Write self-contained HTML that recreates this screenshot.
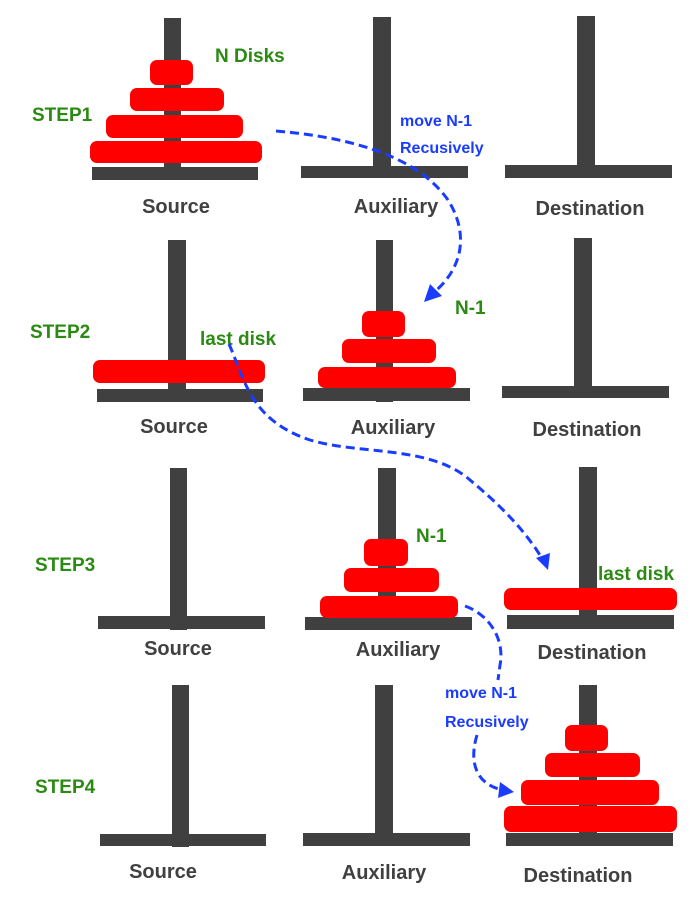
<!DOCTYPE html>
<html><head><meta charset="utf-8"><style>
html,body{margin:0;padding:0;background:#fff;}
svg{display:block;}
text{font-family:"Liberation Sans","DejaVu Sans",sans-serif;font-weight:bold;}
.p{fill:#404040;}
.d{fill:#ff0000;}
.g{fill:#2a8a12;font-size:19px;}
.l{fill:#404040;font-size:20px;}
.b{fill:#1a3cff;font-size:16px;}
.a{fill:none;stroke:#1a3cff;stroke-width:3;stroke-dasharray:9 5;}
</style></head><body>
<svg width="700" height="910" viewBox="0 0 700 910" xmlns="http://www.w3.org/2000/svg">
<rect width="700" height="910" fill="#fff"/>
<!-- STEP1 -->
<rect class="p" x="164" y="18" width="17" height="162"/><rect class="p" x="92" y="167" width="166" height="13"/>
<rect class="d" x="150" y="60" width="43" height="25" rx="7"/>
<rect class="d" x="130" y="88" width="94" height="23" rx="7"/>
<rect class="d" x="106" y="115" width="137" height="23" rx="7"/>
<rect class="d" x="90" y="141" width="172" height="22" rx="7"/>
<rect class="p" x="373" y="17" width="18" height="161"/><rect class="p" x="301" y="166" width="167" height="12"/>
<rect class="p" x="577" y="16" width="18" height="162"/><rect class="p" x="505" y="165" width="167" height="13"/>
<text class="g" x="215" y="62">N Disks</text>
<text class="g" x="32" y="121">STEP1</text>
<text class="b" x="400" y="126">move N-1</text>
<text class="b" x="400" y="153">Recusively</text>
<text class="l" x="176" y="213" text-anchor="middle">Source</text>
<text class="l" x="396" y="213" text-anchor="middle">Auxiliary</text>
<text class="l" x="590" y="215" text-anchor="middle">Destination</text>
<!-- STEP2 -->
<rect class="p" x="168" y="240" width="18" height="162"/><rect class="p" x="97" y="389" width="166" height="13"/>
<rect class="d" x="93" y="360" width="172" height="23" rx="7"/>
<rect class="p" x="376" y="240" width="17" height="162"/><rect class="p" x="303" y="388" width="167" height="13"/>
<rect class="d" x="362" y="311" width="43" height="26" rx="7"/>
<rect class="d" x="342" y="339" width="94" height="24" rx="7"/>
<rect class="d" x="318" y="367" width="138" height="21" rx="7"/>
<rect class="p" x="574" y="238" width="18" height="160"/><rect class="p" x="502" y="386" width="167" height="12"/>
<text class="g" x="30" y="338">STEP2</text>
<text class="g" x="200" y="345">last disk</text>
<text class="g" x="455" y="314">N-1</text>
<text class="l" x="174" y="433" text-anchor="middle">Source</text>
<text class="l" x="393" y="434" text-anchor="middle">Auxiliary</text>
<text class="l" x="587" y="436" text-anchor="middle">Destination</text>
<!-- STEP3 -->
<rect class="p" x="170" y="468" width="17" height="162"/><rect class="p" x="98" y="616" width="167" height="13"/>
<rect class="p" x="378" y="468" width="18" height="162"/><rect class="p" x="305" y="617" width="167" height="13"/>
<rect class="d" x="364" y="539" width="44" height="27" rx="7"/>
<rect class="d" x="344" y="568" width="95" height="24" rx="7"/>
<rect class="d" x="320" y="596" width="138" height="22" rx="7"/>
<rect class="p" x="579" y="467" width="18" height="162"/><rect class="p" x="507" y="615" width="167" height="14"/>
<rect class="d" x="504" y="588" width="173" height="22" rx="7"/>
<text class="g" x="35" y="571">STEP3</text>
<text class="g" x="416" y="542">N-1</text>
<text class="g" x="598" y="580">last disk</text>
<text class="l" x="178" y="655" text-anchor="middle">Source</text>
<text class="l" x="398" y="656" text-anchor="middle">Auxiliary</text>
<text class="l" x="592" y="659" text-anchor="middle">Destination</text>
<!-- STEP4 -->
<rect class="p" x="172" y="685" width="17" height="162"/><rect class="p" x="100" y="834" width="166" height="12"/>
<rect class="p" x="375" y="685" width="18" height="161"/><rect class="p" x="303" y="833" width="167" height="13"/>
<rect class="p" x="579" y="685" width="18" height="161"/><rect class="p" x="506" y="833" width="167" height="13"/>
<rect class="d" x="565" y="725" width="43" height="26" rx="7"/>
<rect class="d" x="545" y="753" width="95" height="24" rx="7"/>
<rect class="d" x="521" y="780" width="138" height="25" rx="7"/>
<rect class="d" x="504" y="806" width="173" height="26" rx="7"/>
<text class="g" x="35" y="793">STEP4</text>
<text class="b" x="445" y="698">move N-1</text>
<text class="b" x="445" y="727">Recusively</text>
<text class="l" x="163" y="878" text-anchor="middle">Source</text>
<text class="l" x="384" y="879" text-anchor="middle">Auxiliary</text>
<text class="l" x="578" y="882" text-anchor="middle">Destination</text>
<!-- arrows -->
<path class="a" d="M276,131 C360,138 420,160 448,200 C470,235 462,270 432,294"/>
<polygon fill="#1a3cff" points="424,302 430,284 442,296"/>
<path class="a" d="M229,344 C245,380 250,420 310,440 C360,455 430,445 470,480 C500,505 525,530 543,560"/>
<polygon fill="#1a3cff" points="548,570 536,558 550,553"/>
<path class="a" d="M465,606 C490,615 505,640 500,665 L498,680"/>
<path class="a" d="M477,735 C468,765 478,785 503,790"/>
<polygon fill="#1a3cff" points="514,792 498,798 500,782"/>
</svg>
</body></html>
